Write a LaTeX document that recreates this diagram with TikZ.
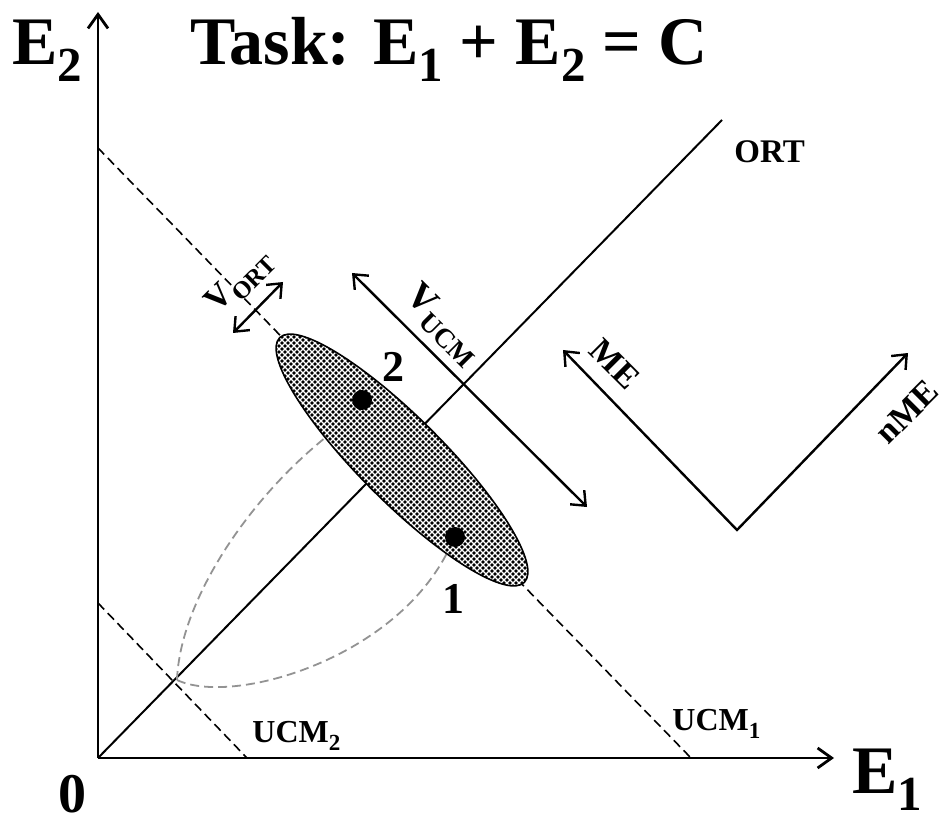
\documentclass[tikz,border=0pt]{standalone}
\usepackage{fontspec}
\usepackage{graphicx}
\setmainfont{Liberation Serif}
\usetikzlibrary{arrows.meta,patterns,shapes.geometric}

\newcommand{\dsub}[1]{\raisebox{-0.25em}{\scalebox{0.72}{#1}}}
\pgfdeclarepatternformonly{stipple}{\pgfqpoint{-1pt}{-1pt}}{\pgfqpoint{4pt}{4pt}}{\pgfqpoint{3pt}{3pt}}{%
  \pgfpathcircle{\pgfqpoint{0pt}{0pt}}{0.95pt}%
  \pgfpathcircle{\pgfqpoint{1.5pt}{1.5pt}}{0.95pt}%
  \pgfusepath{fill}}

\begin{document}
\begin{tikzpicture}[x=0.5pt,y=-0.5pt,
  axisline/.style={line width=1.4pt,-{Straight Barb[length=7pt,width=10pt]}},
  ucmline/.style={line width=0.8pt,dash pattern=on 4.5pt off 2.5pt},
  pathline/.style={gray!85,line width=0.9pt,dash pattern=on 4.5pt off 2.5pt},
  dblarrow/.style={line width=1.2pt,{Straight Barb[length=6pt,width=10pt]}-{Straight Barb[length=6pt,width=10pt]}},
  lbl/.style={inner sep=0pt,font=\bfseries}]
\path[use as bounding box] (0,0) rectangle (947,823);

% axes
\coordinate (O) at (98,758);
\coordinate (xTip) at (834,758);
\coordinate (yTip) at (98,12);
\draw[axisline] (O) -- (xTip);
\draw[axisline] (O) -- (yTip);

% ORT and UCM lines
\coordinate (ortEnd) at (722,120);
\draw[line width=1pt] (O) -- (ortEnd);
\coordinate (ucmOneTop) at (98,148);
\coordinate (ucmOneBot) at (691,758);
\coordinate (ucmTwoTop) at (98,603);
\coordinate (ucmTwoBot) at (247,758);
\draw[ucmline] (ucmOneTop) -- (ucmOneBot);
\draw[ucmline] (ucmTwoTop) -- (ucmTwoBot);

% paths from the small-task state
\coordinate (cross) at (177,680);
\coordinate (endA) at (335,430);
\coordinate (endB) at (447,553);
\draw[pathline] (cross) .. controls (180,600) and (250,495) .. (endA);
\draw[pathline] (cross) .. controls (232,706) and (392,660) .. (endB);

% spread of solutions
\node[ellipse,draw,line width=0.8pt,preaction={fill=white},pattern=stipple,minimum width=173pt,minimum height=42pt,inner sep=0pt,rotate=-45] (spread) at (402,460) {};
\node[circle,fill=black,minimum size=10pt,inner sep=0pt] (ptTwo) at (362,400) {};
\node[circle,fill=black,minimum size=10pt,inner sep=0pt] (ptOne) at (455,537) {};

% variance arrows
\coordinate (vOrtA) at (233,333);
\coordinate (vOrtB) at (283,282);
\draw[dblarrow] (vOrtA) -- (vOrtB);
\coordinate (vUcmA) at (352,273);
\coordinate (vUcmB) at (587,507);
\draw[dblarrow] (vUcmA) -- (vUcmB);
\coordinate (meTip) at (563,350);
\coordinate (meVertex) at (737,530);
\coordinate (nmeTip) at (908,353);
\draw[dblarrow,miter limit=4] (meTip) -- (meVertex) -- (nmeTip);

% labels
\node[lbl,anchor=base west,font=\bfseries\fontsize{34}{34}\selectfont] (lblE2) at (12,65) {E\dsub{2}};
\node[lbl,anchor=base west,font=\bfseries\fontsize{34}{34}\selectfont] (title) at (190,65) {Task: E\dsub{1} + E\dsub{2} = C};
\node[lbl,anchor=base west,font=\bfseries\fontsize{34}{34}\selectfont] (lblE1) at (852,793) {E\dsub{1}};
\node[lbl,anchor=base,font=\bfseries\fontsize{28}{28}\selectfont] (lblZero) at (72,812) {0};
\node[lbl,anchor=base west,font=\bfseries\fontsize{16.5}{16.5}\selectfont] (lblOrt) at (734,163) {ORT};
\node[lbl,anchor=base west,font=\bfseries\fontsize{16}{16}\selectfont] (lblUcmOne) at (672,730) {UCM\dsub{1}};
\node[lbl,anchor=base west,font=\bfseries\fontsize{16}{16}\selectfont] (lblUcmTwo) at (252,742) {UCM\dsub{2}};
\node[lbl,anchor=base,font=\bfseries\fontsize{22}{22}\selectfont] (lblTwo) at (393,382) {2};
\node[lbl,anchor=base,font=\bfseries\fontsize{22}{22}\selectfont] (lblOne) at (453,613) {1};
\node[lbl,rotate=45,font=\bfseries\fontsize{17}{17}\selectfont] (lblVort) at (240,282) {V\dsub{ORT}};
\node[lbl,rotate=-45,font=\bfseries\fontsize{19}{19}\selectfont] (lblVucm) at (443,325) {V\dsub{UCM}};
\node[lbl,rotate=-45,font=\bfseries\fontsize{17}{17}\selectfont] (lblMe) at (615,364) {ME};
\node[lbl,rotate=45,font=\bfseries\fontsize{17}{17}\selectfont] (lblNme) at (907,412) {nME};
\end{tikzpicture}
\end{document}
